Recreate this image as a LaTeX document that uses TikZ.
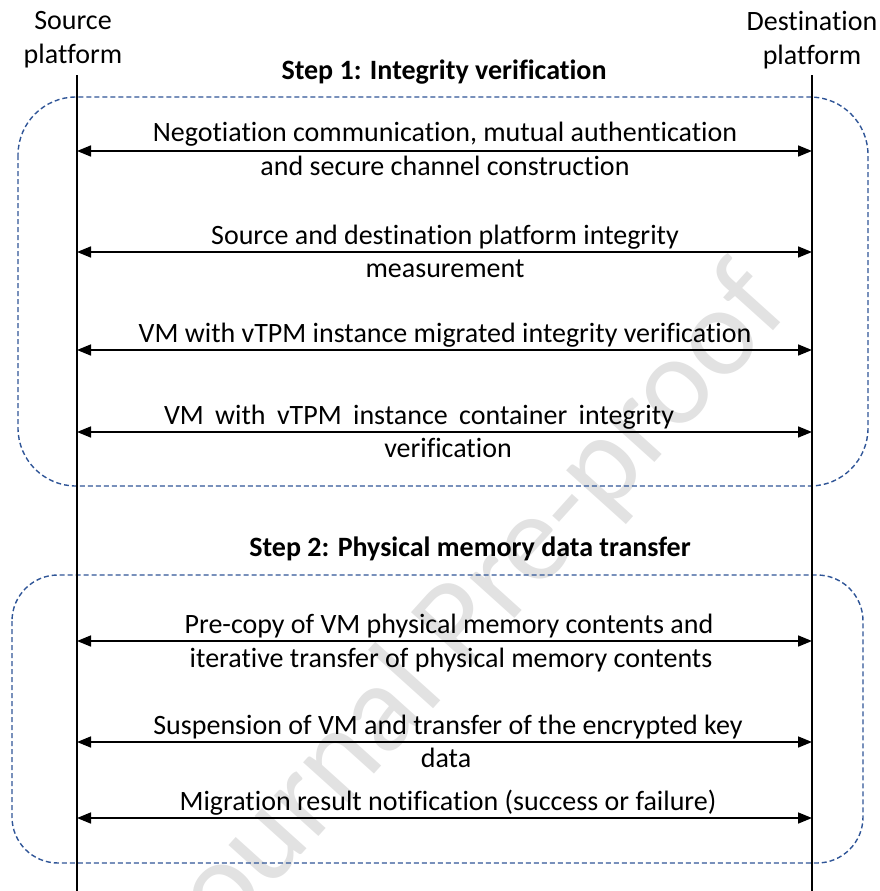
\documentclass[tikz,border=0pt]{standalone}
\usepackage{fontspec}
\setmainfont{Carlito}[Ligatures={NoCommon}]
\usetikzlibrary{arrows.meta}
\definecolor{boxblue}{RGB}{47,85,151}
\definecolor{wmgray}{RGB}{226,226,226}
\begin{document}
\begin{tikzpicture}[x=1pt,y=-1pt,
  lbl/.style={font=\fontsize{28}{34}\selectfont, inner sep=0pt, anchor=base},
  ttl/.style={font=\fontsize{28}{34}\selectfont\bfseries, inner sep=0pt, anchor=base},
  head/.style={font=\fontsize{28}{34}\selectfont, inner sep=0pt, align=center},
  life/.style={line width=2.4pt},
  msg/.style={line width=1.6pt, {Triangle[length=14pt,width=11pt]}-{Triangle[length=14pt,width=11pt]}},
  grp/.style={draw=boxblue, dash pattern=on 5pt off 3pt, line width=1.4pt}]
\useasboundingbox (0,0) rectangle (880,891);
% watermark
\begin{scope}
\clip (0,0) rectangle (880,891);
\node[rotate=48, text=wmgray, font=\fontsize{126}{126}\selectfont, inner sep=0pt] (wmk) at (470,618) {Journal Pre-proof};
\end{scope}
% group boxes
\draw[grp, rounded corners=58pt] (18,97) rectangle (868,486);
\draw[grp, rounded corners=46pt] (12,575) rectangle (863,863);
% participants
\node[head] (src) at (73,40) {Source\\platform};
\node[head] (dst) at (812,40) {Destination\\platform};
\coordinate (srcTop) at (77,75);
\coordinate (srcBot) at (77,891);
\coordinate (dstTop) at (812,75);
\coordinate (dstBot) at (812,891);
\draw[life] (srcTop) -- (srcBot);
\draw[life] (dstTop) -- (dstBot);
% step titles
\node[ttl] (s1) at (444,79) {Step 1: Integrity verification};
\node[ttl] (s2) at (470,556) {Step 2: Physical memory data transfer};
% messages
\foreach \i/\y in {1/151,2/252,3/350,4/432,5/641,6/742,7/818}{
  \coordinate (L\i) at (77,\y);
  \coordinate (R\i) at (812,\y);
  \draw[msg] (L\i) -- (R\i);
}
\node[lbl] (m1a) at (445,141) {Negotiation communication, mutual authentication};
\node[lbl] (m1b) at (445,175) {and secure channel construction};
\node[lbl] (m2a) at (445,244) {Source and destination platform integrity};
\node[lbl] (m2b) at (445,277) {measurement};
\node[lbl] (m3a) at (445,342) {VM with vTPM instance migrated integrity verification};
\node[lbl] (m4a) at (419,424) {\makebox[510pt][s]{VM with vTPM instance container integrity}};
\node[lbl] (m4b) at (448,457) {verification};
\node[lbl] (m5a) at (449,633) {Pre-copy of VM physical memory contents and};
\node[lbl] (m5b) at (451,667) {iterative transfer of physical memory contents};
\node[lbl] (m6a) at (448,734) {Suspension of VM and transfer of the encrypted key};
\node[lbl] (m6b) at (446,767) {data};
\node[lbl] (m7a) at (448,810) {Migration result notification (success or failure)};
\end{tikzpicture}
\end{document}
